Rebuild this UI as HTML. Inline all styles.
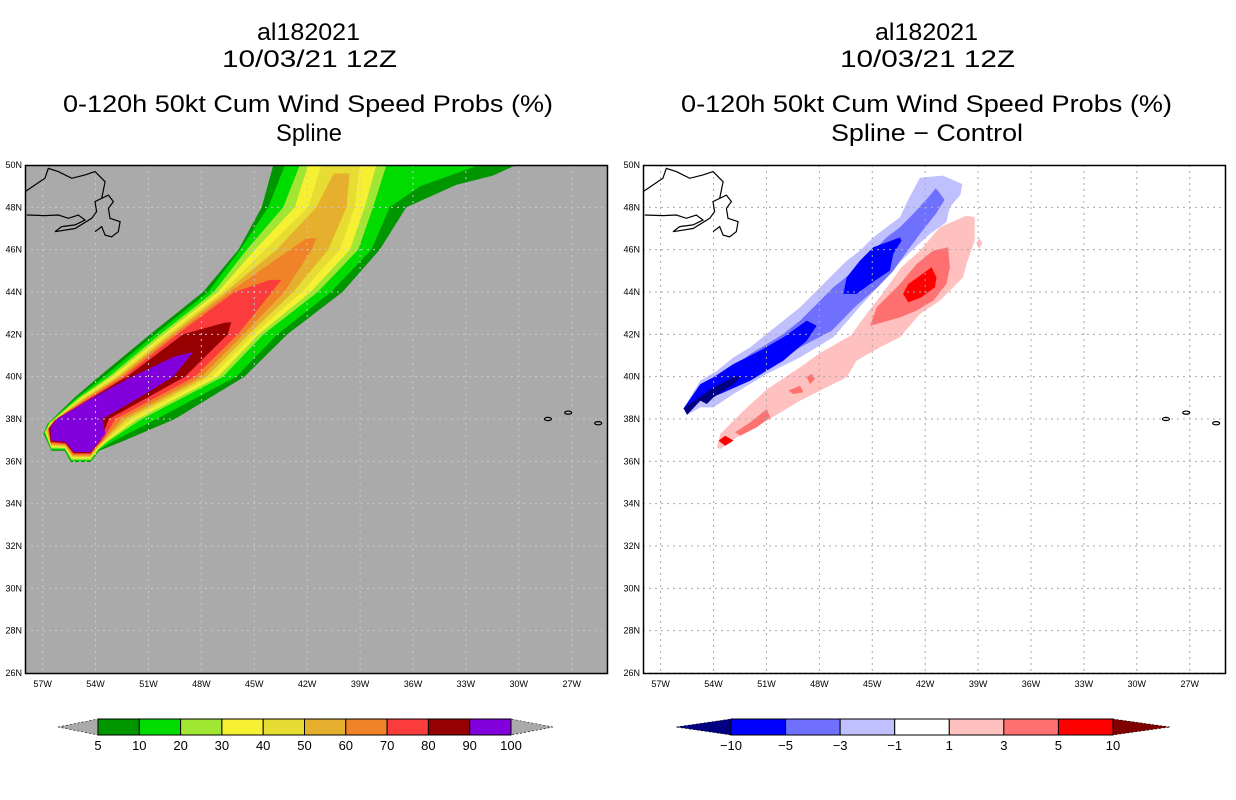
<!DOCTYPE html>
<html><head><meta charset="utf-8"><style>
html,body{margin:0;padding:0;background:#fff;width:1236px;height:800px;overflow:hidden}
svg{display:block;font-family:"Liberation Sans",sans-serif}
</style></head><body>
<svg id="chart" width="1236" height="800" viewBox="0 0 1236 800" xmlns="http://www.w3.org/2000/svg">
<g font-size="24" fill="#000">
<text x="257" y="40" textLength="103" lengthAdjust="spacingAndGlyphs">al182021</text>
<text x="222" y="67" textLength="175" lengthAdjust="spacingAndGlyphs">10/03/21 12Z</text>
<text x="63" y="112" textLength="490" lengthAdjust="spacingAndGlyphs">0-120h 50kt Cum Wind Speed Probs (%)</text>
<text x="276" y="141" textLength="66" lengthAdjust="spacingAndGlyphs">Spline</text>
</g>
<g font-size="24" fill="#000">
<text x="875" y="40" textLength="103" lengthAdjust="spacingAndGlyphs">al182021</text>
<text x="840" y="67" textLength="175" lengthAdjust="spacingAndGlyphs">10/03/21 12Z</text>
<text x="681" y="112" textLength="491" lengthAdjust="spacingAndGlyphs">0-120h 50kt Cum Wind Speed Probs (%)</text>
<text x="831" y="141" textLength="192" lengthAdjust="spacingAndGlyphs">Spline − Control</text>
</g>
</svg>
<script>
// ---- data ----
const latTicks = [50,48,46,44,42,40,38,36,34,32,30,28,26];
const lonTicks = [-57,-54,-51,-48,-45,-42,-39,-36,-33,-30,-27];
const probLevels = [5,10,20,30,40,50,60,70,80,90,100];
const probColors = ["#009600","#00dc00","#a0e632","#f5f032","#e6dc32","#e6af2d","#f08228","#fa3c3c","#960000","#8200dc"];
const diffLevels = [-10,-5,-3,-1,1,3,5,10];
const diffColors = ["#0000ff","#7070ff","#c0c0ff","#ffffff","#ffc0c0","#ff7070","#ff0000"];

// probability contour polygons (lon, lat): tail, right edge upward, left edge downward
const prob5Lon = [-56.72,-56.95,-56.5,-55.75,-55.4,-54.28,-53.8,-52.6,-49.5,-45.56,-43.12,-40.0,-37.89,-36.38,-33.55,-31.47,-30.15,-43.92,-44.58,-45.9,-47.9,-50.9,-53.81,-55.2];
const prob5Lat = [37.78,37.3,36.5,36.5,35.97,35.97,36.5,36.9,38,40,42,44,46,48,49.06,49.5,50,50,48,46,44,42,40,39];
const prob10Lon = [-56.66,-56.91,-56.51,-55.74,-55.38,-54.28,-53.81,-52.9,-50.53,-46.03,-43.68,-40.65,-38.36,-37.32,-35.6,-32.23,-43.26,-44.21,-45.81,-47.62,-50.62,-53.53,-55.07];
const prob10Lat = [37.81,37.33,36.55,36.55,36.02,36.02,36.54,37,38,40,42,44,46,48,49,50,50,48,46,44,42,40,39];
const prob20Lon = [-56.6,-56.87,-56.51,-55.74,-55.36,-54.28,-53.82,-53.2,-51.37,-46.78,-44.47,-41.4,-39.11,-38.26,-37.51,-42.42,-43.36,-45.43,-47.3,-50.34,-53.25,-54.95];
const prob20Lat = [37.83,37.37,36.61,36.59,36.07,36.07,36.57,37,38,40,42,44,46,48,50,50,48,46,44,42,40,39];
const prob30Lon = [-56.53,-56.83,-56.52,-55.73,-55.34,-54.28,-53.84,-53.3,-51.65,-47.06,-44.75,-41.8,-39.58,-38.74,-38.08,-41.94,-42.7,-44.96,-47.06,-50.12,-53.06,-54.82];
const prob30Lat = [37.86,37.4,36.66,36.64,36.13,36.13,36.61,37,38,40,42,44,46,48,50,50,48,46,44,42,40,39];
const prob40Lon = [-56.47,-56.79,-56.52,-55.72,-55.32,-54.28,-53.85,-53.4,-51.94,-47.43,-45.03,-42.3,-40.15,-39.3,-39.02,-41.19,-41.94,-44.4,-46.83,-49.93,-52.87,-54.7];
const prob40Lat = [37.89,37.43,36.72,36.68,36.18,36.18,36.65,37,38,40,42,44,46,48,50,50,48,46,44,42,40,39];
const prob50Lon = [-56.41,-56.76,-56.53,-55.72,-55.3,-54.28,-53.86,-53.5,-52.22,-47.71,-45.31,-42.8,-40.81,-39.77,-39.6,-40.5,-41.47,-43.74,-46.63,-49.74,-52.72,-54.58];
const prob50Lat = [37.91,37.47,36.77,36.73,36.23,36.23,36.68,37,38,40,42,44,46,48,49.6,49.6,48,46,44,42,40,39];
const prob60Lon = [-56.35,-56.72,-56.54,-55.71,-55.28,-54.28,-53.87,-53.55,-52.5,-48.0,-45.61,-43.3,-41.75,-41.47,-42.04,-42.98,-46.4,-49.55,-52.59,-54.46];
const prob60Lat = [37.94,37.5,36.82,36.77,36.28,36.28,36.72,37,38,40,42,44,46,46.54,46.54,46,44,42,40,39];
const prob70Lon = [-56.28,-56.68,-56.54,-55.7,-55.26,-54.28,-53.89,-53.6,-52.87,-48.37,-45.93,-44.0,-43.45,-44.11,-46.12,-49.37,-52.41,-54.33];
const prob70Lat = [37.97,37.53,36.88,36.82,36.34,36.34,36.76,37,38,40,42,44,44.57,44.57,44,42,40,39];
const prob80Lon = [-56.22,-56.64,-56.55,-55.7,-55.24,-54.28,-53.9,-53.7,-53.25,-48.93,-46.5,-46.31,-46.7,-49.03,-52.22,-54.21];
const prob80Lat = [37.99,37.57,36.93,36.86,36.39,36.39,36.79,37,38,40,42,42.58,42.55,42,40,39];
const prob90Lon = [-56.16,-56.55,-56.53,-55.69,-55.22,-54.28,-53.91,-53.44,-53.62,-51.47,-49.59,-48.84,-48.47,-49.59,-51.94,-54.09];
const prob90Lat = [38.02,37.62,36.99,36.91,36.44,36.44,36.83,37.31,38,39.04,40,40.77,41.17,40.93,40,39.04];

// difference contour polygons
const dm1Lon = [-55.7,-55.5,-54.75,-54,-52.87,-50.98,-49.09,-47.21,-45.98,-45.04,-43.72,-42.77,-41.74,-40.8,-40.6,-40.0,-39.9,-41.0,-42.3,-43.0,-43.43,-44.19,-44.94,-45.7,-46.45,-47.21,-48.15,-49.09,-50.04,-50.98,-51.92,-52.87,-53.81,-54.75];
const dm1Lat = [38.5,38.2,38.55,38.55,39.18,40.13,40.91,41.86,43.04,43.91,45.17,45.95,46.74,47.3,48.0,48.6,49.1,49.5,49.4,48.3,47.53,47.06,46.58,45.95,45.48,44.85,44.06,43.28,42.65,42.02,41.39,40.91,40.28,39.81];
const dm3Lon = [-55.7,-55.5,-54.75,-52.87,-50.98,-49.09,-47.3,-46.0,-44.7,-43.8,-43.0,-42.3,-41.4,-40.9,-41.2,-41.4,-41.8,-42.68,-43.43,-44.19,-45.32,-46.26,-47.21,-48.15,-49.09,-50.04,-50.98,-51.92,-52.87,-53.81,-54.75];
const dm3Lat = [38.5,38.2,39.02,39.65,40.44,41.39,42.17,43.28,44.22,45.0,45.95,46.74,47.69,48.35,48.7,48.9,48.5,47.69,47.06,46.58,45.64,44.85,44.22,43.43,42.65,42.02,41.54,41.07,40.44,39.97,39.5];
const dm5aLon = [-55.7,-55.5,-54.75,-53.62,-51.92,-50.04,-48.72,-48.15,-48.72,-50.04,-51.36,-52.87,-54.0,-54.75];
const dm5aLat = [38.5,38.2,38.87,39.18,39.81,40.76,41.7,42.41,42.65,41.86,41.23,40.6,39.97,39.65];
const dm5bLon = [-46.64,-46.45,-45.7,-44.94,-43.43,-43.34,-43.81,-44.0,-45.13,-45.89];
const dm5bLat = [43.91,44.69,45.48,46.11,46.58,46.43,45.8,45.01,44.38,43.91];
const dm10Lon = [-55.7,-55.5,-54.75,-54.38,-54.0,-52.87,-52.4,-52.87,-54.0];
const dm10Lat = [38.5,38.2,38.87,38.71,39.02,39.65,40.05,39.97,39.5];
const dp1Lon = [-53.62,-52.68,-50.98,-49.09,-47.58,-46.45,-45.89,-44.57,-43.43,-42.3,-41.17,-39.85,-39.66,-39.19,-39.19,-39.66,-41.17,-42.3,-43.34,-44.45,-45.3,-46.2,-48.0,-49.0,-50.98,-52.3,-53.62,-53.81];
const dp1Lat = [36.58,37.13,37.92,38.87,39.5,39.97,40.76,41.39,41.86,42.96,43.59,44.69,45.32,46.43,47.53,47.61,47.06,45.95,45.17,43.9,43.0,41.95,41.1,40.5,39.4,38.39,37.29,36.66];
const dp1bLon = [-39.1,-38.95,-38.75,-38.95];
const dp1bLat = [46.3,46.55,46.3,46.05];
const dp3aLon = [-45.13,-44.75,-43.43,-42.49,-41.55,-40.7,-40.6,-40.79,-41.55,-42.49,-43.43,-44.75];
const dp3aLat = [42.41,43.28,44.38,45.32,45.95,46.11,45.17,44.38,43.59,43.12,42.8,42.49];
const dp3bLon = [-52.77,-51.92,-50.98,-50.79,-51.55,-52.49];
const dp3bLat = [37.37,37.84,38.47,38.08,37.61,37.21];
const dp3cLon = [-49.75,-49.09,-48.91,-49.47];
const dp3cLat = [39.34,39.57,39.26,39.18];
const dp3dLon = [-48.72,-48.43,-48.25,-48.53];
const dp3dLat = [39.97,40.13,39.89,39.65];
const dp5aLon = [-43.25,-42.96,-42.02,-41.64,-41.36,-41.45,-42.21,-42.96];
const dp5aLat = [43.91,44.38,44.93,45.17,44.69,44.22,43.75,43.51];
const dp5bLon = [-53.72,-53.34,-52.87,-53.34];
const dp5bLat = [36.98,37.21,36.98,36.74];

// geography (approximate coastline, lon/lat)
const coastALon = [-57.9,-56.87,-56.11,-55.54,-54.98,-54.6,-55.16,-55.92,-56.3,-55.16,-54.22,-53.94,-54.03,-53.27,-52.99,-53.27,-53.18,-52.61,-52.71,-53.09,-53.46,-53.65,-54.03];
const coastALat = [47.64,47.61,47.64,47.48,47.64,47.4,47.17,47.09,46.85,47.0,47.48,47.8,48.27,48.58,48.27,47.95,47.48,47.32,46.85,46.61,46.69,47.09,46.85];
const coastBLon = [-58,-57.43,-56.87,-56.68,-56.11,-55.35,-54.6,-54.03,-53.46,-53.65];
const coastBLat = [48.74,49.06,49.37,49.84,49.69,49.37,49.53,49.69,49.21,48.43];
const islandLon = [-28.35,-27.2,-25.5];
const islandLat = [38.0,38.3,37.8];

// ---- drawing ----
const NS = "http://www.w3.org/2000/svg";
const svg = document.getElementById("chart");
const TOP = 165, BOT = 673, W = 582;
const LON0 = -58, LON1 = -25, LAT0 = 26, LAT1 = 50;
function mk(tag, attrs, parent){const e=document.createElementNS(NS,tag);for(const k in attrs)e.setAttribute(k,attrs[k]);(parent||svg).appendChild(e);return e;}
function xs(x0){return lon=>x0+(lon-LON0)/(LON1-LON0)*W;}
function ys(lat){return TOP+(LAT1-lat)/(LAT1-LAT0)*(BOT-TOP);}
function pts(X,lons,lats){return lons.map((v,i)=>X(v).toFixed(1)+","+ys(lats[i]).toFixed(1)).join(" ");}

function panel(x0, bg, gridCol, name){
  const X = xs(x0);
  const g = mk("g",{});
  
  
  const cid = name+"-clip";
  const cp = mk("clipPath",{id:cid},g);
  mk("rect",{x:x0,y:TOP,width:W,height:BOT-TOP},cp);
  const bgr = mk("rect",{x:x0,y:TOP,width:W,height:BOT-TOP,fill:bg},g);
  
  
  const inner = mk("g",{"clip-path":"url(#"+cid+")"},g);
  return {X,g,inner,x0,gridCol};
}
function poly(P,lons,lats,color,nm){
  const p = mk("polygon",{points:pts(P.X,lons,lats),fill:color,"stroke-linejoin":"round"},P.inner);
  
  
}
function finish(P){
  const gg = mk("g",{stroke:P.gridCol,"stroke-width":1,"stroke-dasharray":"2,4"},P.inner);
  
  
  lonTicks.forEach(l=>mk("line",{x1:P.X(l),x2:P.X(l),y1:TOP,y2:BOT},gg));
  latTicks.forEach(l=>mk("line",{x1:P.x0,x2:P.x0+W,y1:ys(l),y2:ys(l)},gg));
  const cg = mk("g",{fill:"none",stroke:"#000","stroke-width":1.2},P.inner);
  
  
  mk("polyline",{points:pts(P.X,coastALon,coastALat)},cg);
  mk("polyline",{points:pts(P.X,coastBLon,coastBLat)},cg);
  islandLon.forEach((l,i)=>{
    const e = mk("ellipse",{cx:P.X(l),cy:ys(islandLat[i]),rx:3.5,ry:1.6},cg);
    
    
  });
  const fr = mk("rect",{x:P.x0+0.5,y:TOP+0.5,width:W,height:BOT-TOP,fill:"none",stroke:"#000","stroke-width":1.5},P.g);
  
  
  const tg = mk("g",{"font-size":9,fill:"#000"},P.g);
  
  
  latTicks.forEach(l=>{
    const t = mk("text",{x:P.x0-3,y:ys(l)+3,"text-anchor":"end"},tg);
    t.textContent = l+"N";
    
    
  });
  lonTicks.forEach(l=>{
    const t = mk("text",{x:P.X(l),y:BOT+14,"text-anchor":"middle"},tg);
    t.textContent = (-l)+"W";
    
    
  });
}

// Left panel
const L = panel(25,"#aaaaaa","#c8c8c8","left-map-panel");
const probPolys = [[prob5Lon,prob5Lat],[prob10Lon,prob10Lat],[prob20Lon,prob20Lat],[prob30Lon,prob30Lat],[prob40Lon,prob40Lat],[prob50Lon,prob50Lat],[prob60Lon,prob60Lat],[prob70Lon,prob70Lat],[prob80Lon,prob80Lat],[prob90Lon,prob90Lat]];
probPolys.forEach((pp,i)=>poly(L,pp[0],pp[1],probColors[i],"prob-contour-"+probLevels[i]));
finish(L);

// Right panel
const R = panel(643,"#ffffff","#aaaaaa","right-map-panel");
poly(R,dm1Lon,dm1Lat,diffColors[2],"diff-contour-minus1");
poly(R,dm3Lon,dm3Lat,diffColors[1],"diff-contour-minus3");
poly(R,dm5aLon,dm5aLat,diffColors[0],"diff-contour-minus5-south");
poly(R,dm5bLon,dm5bLat,diffColors[0],"diff-contour-minus5-north");
poly(R,dm10Lon,dm10Lat,"#000080","diff-contour-minus10");
poly(R,dp1Lon,dp1Lat,diffColors[4],"diff-contour-plus1");
poly(R,dp1bLon,dp1bLat,diffColors[4],"diff-contour-plus1-spot");
poly(R,dp3aLon,dp3aLat,diffColors[5],"diff-contour-plus3-north");
poly(R,dp3bLon,dp3bLat,diffColors[5],"diff-contour-plus3-south");
poly(R,dp3cLon,dp3cLat,diffColors[5],"diff-contour-plus3-mid");
poly(R,dp3dLon,dp3dLat,diffColors[5],"diff-contour-plus3-spot");
poly(R,dp5aLon,dp5aLat,diffColors[6],"diff-contour-plus5-north");
poly(R,dp5bLon,dp5bLat,diffColors[6],"diff-contour-plus5-south");
finish(R);

// Colorbars
function colorbar(x0,x1,tri0,tri1,levels,colors,lc,rc,name){
  const g = mk("g",{});
  
  
  const y0=719,y1=735,ym=727;
  const n = colors.length, bw=(x1-x0)/n;
  const lt = mk("polygon",{points:`${tri0},${ym} ${x0},${y0} ${x0},${y1}`,fill:lc,stroke:"#000","stroke-width":0.6,"stroke-dasharray":"2,2"},g);
  
  
  const rt = mk("polygon",{points:`${tri1},${ym} ${x1},${y0} ${x1},${y1}`,fill:rc,stroke:"#000","stroke-width":0.6,"stroke-dasharray":"2,2"},g);
  
  
  colors.forEach((c,i)=>{
    const r = mk("rect",{x:x0+i*bw,y:y0,width:bw,height:y1-y0,fill:c,stroke:"#000","stroke-width":1},g);
    
    
  });
  levels.forEach((v,i)=>{
    const t = mk("text",{x:x0+i*bw,y:750,"text-anchor":"middle","font-size":13,fill:"#000"},g);
    t.textContent = v<0 ? "−"+(-v) : String(v);
    
    
  });
}
colorbar(98,511,58,553,probLevels,probColors,"#aaaaaa","#aaaaaa","prob-colorbar");
colorbar(731,1113,676,1170,diffLevels,diffColors,"#000080","#800000","diff-colorbar");
</script>
</body></html>
